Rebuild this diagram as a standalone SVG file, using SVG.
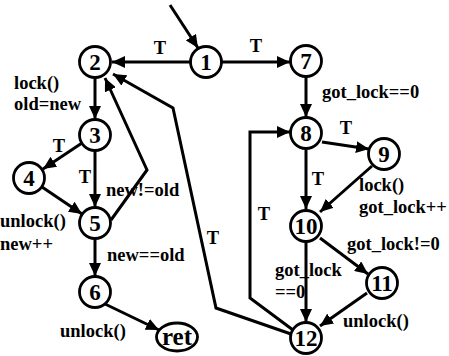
<svg xmlns="http://www.w3.org/2000/svg" width="449" height="356" viewBox="0 0 449 356">
  <style>
    .node circle, .node ellipse { fill: #fff; stroke: #000; stroke-width: 2.8; }
    .node text { font-family: "Liberation Serif", "Times New Roman", serif; font-weight: bold; font-size: 23px; text-anchor: middle; fill: #000; }
    .edge { fill: none; stroke: #000; stroke-width: 3; marker-end: url(#arrow); }
    .lbl { font-family: "Liberation Serif", "Times New Roman", serif; font-weight: bold; font-size: 18.5px; fill: #000; }
    .mid { text-anchor: middle; }
  </style>
  <defs>
    <marker id="arrow" markerUnits="userSpaceOnUse" markerWidth="14" markerHeight="12" refX="13" refY="6" orient="auto">
      <path d="M0,0 L13,6 L0,12 Z" fill="#000"/>
    </marker>
  </defs>
  <rect width="449" height="356" fill="#fff"/>

  <!-- connectors -->
  <g id="edges">
    <line class="edge" x1="170" y1="5" x2="198" y2="48"/>
    <line class="edge" x1="190" y1="62" x2="112" y2="62"/>
    <line class="edge" x1="222" y1="62" x2="290" y2="62"/>
    <line class="edge" x1="95" y1="78" x2="95" y2="119"/>
    <line class="edge" x1="306" y1="77" x2="306" y2="117"/>
    <line class="edge" x1="82" y1="143" x2="43" y2="169"/>
    <line class="edge" x1="95" y1="151" x2="95" y2="207"/>
    <line class="edge" x1="42" y1="187" x2="82" y2="214"/>
    <polyline class="edge" points="111,220 147,170 105,78"/>
    <polyline class="edge" points="291,334 216,308 173,108 113,74"/>
    <line class="edge" x1="95" y1="239" x2="95" y2="276"/>
    <line class="edge" x1="105" y1="304" x2="159" y2="330"/>
    <line class="edge" x1="322" y1="142" x2="369" y2="149"/>
    <line class="edge" x1="306" y1="150" x2="306" y2="209"/>
    <line class="edge" x1="372" y1="166" x2="320" y2="212"/>
    <line class="edge" x1="320" y1="238" x2="368" y2="274"/>
    <line class="edge" x1="306" y1="242" x2="306" y2="322"/>
    <line class="edge" x1="367" y1="293" x2="320" y2="326"/>
    <polyline class="edge" points="293,330 250,298 250,132 290,132"/>
  </g>

  <!-- edge labels -->
  <g id="labels">
    <text class="lbl mid" x="160" y="54">T</text>
    <text class="lbl mid" x="256" y="52">T</text>
    <text class="lbl mid" x="59" y="152">T</text>
    <text class="lbl mid" x="85" y="183">T</text>
    <text class="lbl mid" x="346" y="134">T</text>
    <text class="lbl mid" x="318" y="185">T</text>
    <text class="lbl mid" x="264" y="220">T</text>
    <text class="lbl mid" x="213" y="244">T</text>
    <text class="lbl" x="14" y="89">lock()</text>
    <text class="lbl" x="14" y="110">old=new</text>
    <text class="lbl" x="322" y="98">got_lock==0</text>
    <text class="lbl" x="106" y="196">new!=old</text>
    <text class="lbl" x="0" y="227">unlock()</text>
    <text class="lbl" x="0" y="250">new++</text>
    <text class="lbl" x="107" y="261">new==old</text>
    <text class="lbl" x="60" y="337">unlock()</text>
    <text class="lbl" x="359" y="191">lock()</text>
    <text class="lbl" x="359" y="213">got_lock++</text>
    <text class="lbl" x="347" y="250">got_lock!=0</text>
    <text class="lbl" x="275" y="276">got_lock</text>
    <text class="lbl" x="275" y="298">==0</text>
    <text class="lbl" x="343" y="327">unlock()</text>
  </g>

  <!-- nodes -->
  <g id="n1" class="node"><circle cx="206" cy="62" r="15.5"/><text x="206" y="70">1</text></g>
  <g id="n2" class="node"><circle cx="95" cy="62" r="15.5"/><text x="95" y="70">2</text></g>
  <g id="n7" class="node"><circle cx="306" cy="61" r="15.5"/><text x="306" y="69">7</text></g>
  <g id="n3" class="node"><circle cx="95" cy="135" r="15.5"/><text x="95" y="143">3</text></g>
  <g id="n4" class="node"><circle cx="29" cy="178" r="15.5"/><text x="29" y="186">4</text></g>
  <g id="n5" class="node"><circle cx="95" cy="223" r="15.5"/><text x="95" y="231">5</text></g>
  <g id="n6" class="node"><circle cx="95" cy="292" r="15.5"/><text x="95" y="300">6</text></g>
  <g id="nret" class="node"><ellipse cx="177" cy="337" rx="20.5" ry="14"/><text x="177" y="345" style="font-size:25px">ret</text></g>
  <g id="n8" class="node"><circle cx="306" cy="133" r="15.5"/><text x="306" y="141">8</text></g>
  <g id="n9" class="node"><circle cx="384" cy="154" r="15.5"/><text x="384" y="162">9</text></g>
  <g id="n10" class="node"><circle cx="306" cy="226" r="15.5"/><text x="306" y="234">10</text></g>
  <g id="n11" class="node"><circle cx="382" cy="283" r="15.5"/><text x="382" y="291">11</text></g>
  <g id="n12" class="node"><circle cx="306" cy="338" r="15.5"/><text x="306" y="346">12</text></g>
</svg>
